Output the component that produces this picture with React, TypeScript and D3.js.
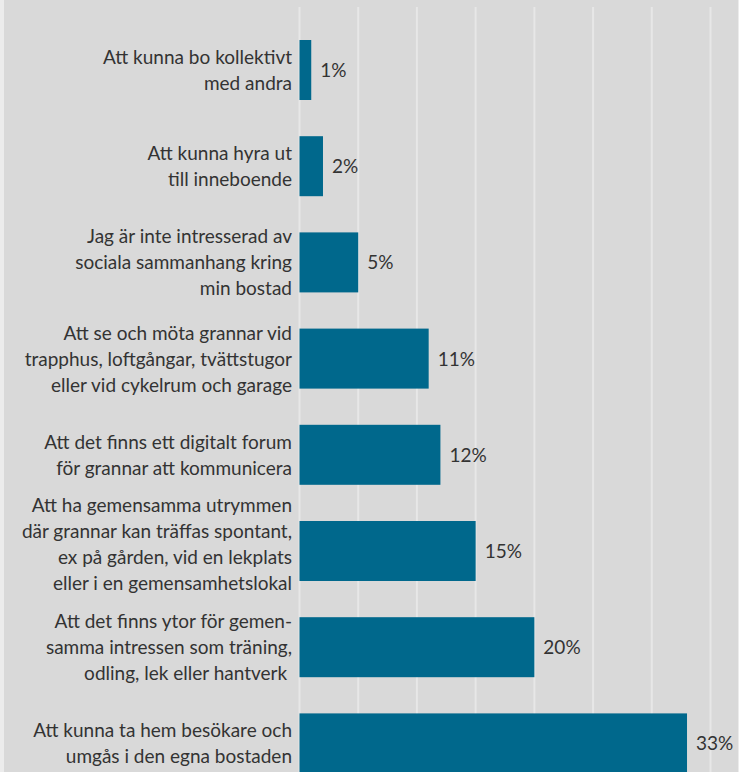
import React from "react";
import * as d3 from "d3";

const categories: string[][] = [
  ["Att kunna bo kollektivt", "med andra"],
  ["Att kunna hyra ut", "till inneboende"],
  ["Jag är inte intresserad av", "sociala sammanhang kring", "min bostad"],
  ["Att se och möta grannar vid", "trapphus, loftgångar, tvättstugor", "eller vid cykelrum och garage"],
  ["Att det finns ett digitalt forum", "för grannar att kommunicera"],
  ["Att ha gemensamma utrymmen", "där grannar kan träffas spontant,", "ex på gården, vid en lekplats", "eller i en gemensamhetslokal"],
  ["Att det finns ytor för gemen-", "samma intressen som träning,", "odling, lek eller hantverk\u00a0"],
  ["Att kunna ta hem besökare och", "umgås i den egna bostaden"],
];
const values: number[] = [1, 2, 5, 11, 12, 15, 20, 33];
const gridTicks: number[] = [0, 5, 10, 15, 20, 25, 30, 35];

const W = 739;
const H = 772;

export default function App() {
  const x = d3.scaleLinear().domain([0, 35]).range([299.5, 710.5]);
  const step = 96.2;
  const barH = 60;
  const pad = (step - barH) / step;
  const y = d3
    .scaleBand<number>()
    .domain(d3.range(values.length))
    .range([40 - (step - barH) / 2, 40 - (step - barH) / 2 + step * values.length])
    .paddingInner(pad)
    .paddingOuter(pad / 2);
  const lineH = 26;
  const font = "Lato, 'Open Sans', sans-serif";
  return (
    <svg
      width={W}
      height={H}
      style={{ position: "absolute", left: 0, top: 0, display: "block" }}
    >
      <rect x={0} y={0} width={W} height={H} fill="#ececec" />
      <rect x={4} y={0} width={734} height={H} fill="#d9d9d9" />
      {gridTicks.map((t) => (
        <line
          key={t}
          x1={x(t)}
          x2={x(t)}
          y1={7}
          y2={H}
          stroke="#e7e7e7"
          strokeWidth={2}
        />
      ))}
      {values.map((v, i) => {
        const y0 = y(i) as number;
        const bw = y.bandwidth();
        const cy = y0 + bw / 2;
        const lines = categories[i];
        const n = lines.length;
        const off = n >= 4 ? 0 : 7;
        return (
          <g key={i}>
            <rect
              x={x(0)}
              y={y0}
              width={x(v) - x(0)}
              height={bw}
              fill="#00688c"
            />
            <text
              x={x(v) + 9}
              y={cy + 7}
              fontFamily={font}
              fontSize={19}
              fill="#333333"
            >
              {v}%
            </text>
            <text
              x={292}
              textAnchor="end"
              fontFamily={font}
              fontSize={19}
              fill="#333333"
            >
              {lines.map((l, j) => (
                <tspan key={j} x={292} y={cy + (j - (n - 1) / 2) * lineH + off}>
                  {l}
                </tspan>
              ))}
            </text>
          </g>
        );
      })}
    </svg>
  );
}
